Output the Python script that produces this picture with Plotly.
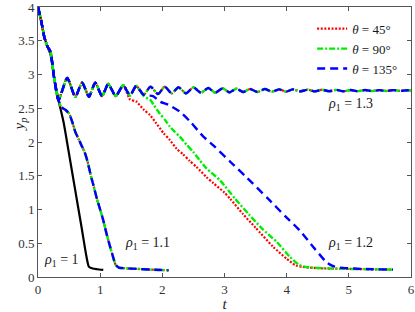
import plotly.graph_objects as go

# ---------------- data ----------------
# shared initial descent
T0 = [0, 0.05, 0.1, 0.15, 0.2, 0.26]
Y0 = [4.0, 3.8, 3.56, 3.42, 3.34, 2.95]

# rho1 = 1 (black)
T_R10 = [0, 0.05, 0.1, 0.15, 0.2, 0.26, 0.33, 0.41, 0.5, 0.6, 0.7, 0.78, 0.82, 0.88, 0.95, 1.05]
Y_R10 = [4.0, 3.8, 3.56, 3.42, 3.3, 2.95, 2.62, 2.3, 1.82, 1.28, 0.74, 0.3, 0.15, 0.125, 0.115, 0.105]

# rho1 = 1.1 (after the shared descent)
T_R11 = [0.33, 0.37, 0.45, 0.5, 0.55, 0.6, 0.65, 0.7, 0.75, 0.8, 0.85, 0.9, 0.95, 1.0,
         1.05, 1.1, 1.15, 1.2, 1.25, 1.3, 1.4, 1.6, 1.8, 2.1]
Y_R11 = [2.62, 2.52, 2.47, 2.42, 2.3, 2.15, 2.05, 1.95, 1.85, 1.7, 1.5, 1.33, 1.15, 1.0,
         0.84, 0.65, 0.48, 0.32, 0.18, 0.14, 0.13, 0.12, 0.11, 0.1]

# oscillating plateau (rho1 = 1.3, and rho1 = 1.2 before it leaves)
OSC_T = [0.33, 0.47, 0.60, 0.71, 0.82, 0.92, 1.03, 1.13, 1.25, 1.37,
         1.48, 1.58, 1.70, 1.81, 1.93, 2.04, 2.15, 2.26, 2.38, 2.50,
         2.62, 2.74, 2.85, 2.97, 3.08, 3.19, 3.30, 3.41, 3.53, 3.65,
         3.76, 3.88, 3.99, 4.10, 4.22, 4.34, 4.45, 4.57, 4.68, 4.80,
         4.91, 5.03, 5.14, 5.26, 5.37, 5.49, 5.60, 5.72, 5.83, 5.95, 6.0]
OSC_Y = [2.62, 2.95, 2.67, 2.88, 2.67, 2.88, 2.68, 2.86, 2.68, 2.84,
         2.69, 2.83, 2.70, 2.82, 2.71, 2.82, 2.72, 2.81, 2.72, 2.81,
         2.73, 2.80, 2.73, 2.795, 2.735, 2.79, 2.74, 2.785, 2.74, 2.785,
         2.745, 2.78, 2.745, 2.78, 2.75, 2.775, 2.75, 2.775, 2.752, 2.772,
         2.752, 2.77, 2.754, 2.77, 2.755, 2.768, 2.756, 2.768, 2.757, 2.766, 2.762]

# rho1 = 1.2 tails (number of plateau points kept before leaving)
KEEP_45, KEEP_90, KEEP_135 = 10, 12, 13
T_R12_45 = [1.48, 1.58, 1.7, 1.8, 1.9, 2.02, 2.12, 2.23, 2.33, 2.44, 2.55, 2.71, 2.82, 3.0, 3.09,
            3.3, 3.5, 3.78, 4.0, 4.15, 4.25, 4.5, 5.0, 5.7]
Y_R12_45 = [2.63, 2.6, 2.48, 2.4, 2.28, 2.13, 2.03, 1.9, 1.82, 1.72, 1.63, 1.48, 1.39, 1.25, 1.16,
            0.93, 0.73, 0.45, 0.27, 0.17, 0.15, 0.13, 0.12, 0.11]
T_R12_90 = [1.7, 1.81, 1.86, 1.96, 2.05, 2.12, 2.2, 2.28, 2.39, 2.5, 2.6, 2.71, 2.93, 3.17, 3.4,
            3.6, 3.84, 4.05, 4.2, 4.3, 4.6, 5.0, 5.7]
Y_R12_90 = [2.68, 2.62, 2.55, 2.42, 2.32, 2.23, 2.15, 2.08, 1.96, 1.85, 1.73, 1.61, 1.43, 1.16, 0.92,
            0.72, 0.52, 0.3, 0.18, 0.15, 0.13, 0.12, 0.11]
T_R12_135 = [1.85, 1.96, 2.1, 2.28, 2.45, 2.66, 2.82, 3.1, 3.35, 3.7, 4.0, 4.21, 4.45, 4.64, 4.75,
             4.85, 5.2, 5.71]
Y_R12_135 = [2.68, 2.6, 2.55, 2.45, 2.3, 2.08, 1.95, 1.7, 1.48, 1.16, 0.88, 0.69, 0.42, 0.22, 0.16,
             0.14, 0.12, 0.11]

LEGEND_NAMES = ["<i>θ</i> = 45°", "<i>θ</i> = 90°", "<i>θ</i> = 135°"]
LABELS = ["<i>ρ</i><sub>1</sub> = 1", "<i>ρ</i><sub>1</sub> = 1.1",
          "<i>ρ</i><sub>1</sub> = 1.2", "<i>ρ</i><sub>1</sub> = 1.3"]
LABEL_X = [0.37, 1.76, 5.03, 5.03]
LABEL_Y = [0.25, 0.5, 0.5, 2.55]
X_TICKS = [0, 1, 2, 3, 4, 5, 6]
Y_TICKS = [0, 0.5, 1, 1.5, 2, 2.5, 3, 3.5, 4]
Y_TICK_TEXT = ["0", "0.5", "1", "1.5", "2", "2.5", "3", "3.5", "4"]

# ---------------- styles ----------------
STYLES = [
    dict(color="#ff0000", dash="2px,1.6px", width=2.2),
    dict(color="#00ee00", dash="6px,2px,2px,2px", width=2.4),
    dict(color="#0000ff", dash="8px,5px", width=2.4),
]
SERIF = "Liberation Serif"

fig = go.Figure()

fig.add_trace(go.Scatter(x=T_R10, y=Y_R10, mode="lines", showlegend=False,
                         line=dict(color="black", width=2.2, shape="spline", smoothing=0.6)))

tails12 = [(KEEP_45, T_R12_45, Y_R12_45), (KEEP_90, T_R12_90, Y_R12_90),
           (KEEP_135, T_R12_135, Y_R12_135)]

for i, st in enumerate(STYLES):
    ln = dict(color=st["color"], dash=st["dash"], width=st["width"], shape="spline", smoothing=0.6)
    # rho1 = 1.1
    fig.add_trace(go.Scatter(x=T0 + T_R11, y=Y0 + Y_R11, mode="lines", line=ln,
                             name=LEGEND_NAMES[i], legendgroup=str(i), showlegend=True))
    # rho1 = 1.2
    k, tt, yy = tails12[i]
    fig.add_trace(go.Scatter(x=T0 + OSC_T[:k] + tt, y=Y0 + OSC_Y[:k] + yy, mode="lines", line=ln,
                             legendgroup=str(i), showlegend=False))
    # rho1 = 1.3
    fig.add_trace(go.Scatter(x=T0 + OSC_T, y=Y0 + OSC_Y, mode="lines", line=ln,
                             legendgroup=str(i), showlegend=False))

for txt, lx, ly in zip(LABELS, LABEL_X, LABEL_Y):
    fig.add_annotation(x=lx, y=ly, text=txt, showarrow=False,
                       font=dict(family=SERIF, size=14, color="#1a1a1a"))

# y-axis title placed like the reference (between tick labels)
fig.add_annotation(xref="paper", yref="paper", x=-0.048, y=0.565, text="<i>y<sub>p</sub></i>",
                   showarrow=False, textangle=-90, xanchor="center", yanchor="middle",
                   font=dict(family=SERIF, size=15, color="#1a1a1a"))

axis_common = dict(showgrid=False, zeroline=False, showline=True, linecolor="#555555",
                   linewidth=1, mirror="ticks", ticks="inside", ticklen=4, tickcolor="#555555",
                   automargin=False, ticklabeloverflow="allow",
                   tickfont=dict(family=SERIF, size=13, color="#333333"))

fig.update_xaxes(range=[0, 6], tickvals=X_TICKS, **axis_common,
                 title=dict(text="<i>t</i>", font=dict(family=SERIF, size=15, color="#1a1a1a"),
                            standoff=2))
fig.update_yaxes(range=[0, 4], tickvals=Y_TICKS, ticktext=Y_TICK_TEXT, **axis_common)

fig.update_layout(
    width=415, height=312,
    margin=dict(l=38, r=4, t=7, b=35),
    paper_bgcolor="white", plot_bgcolor="white",
    legend=dict(x=0.735, y=0.975, xanchor="left", yanchor="top",
                bgcolor="rgba(255,255,255,0)", borderwidth=0,
                font=dict(family=SERIF, size=13, color="#1a1a1a"),
                tracegroupgap=0, itemwidth=30),
)

fig.write_html("out.html", config={"displayModeBar": False},
               post_script="document.body.style.margin='0';")
